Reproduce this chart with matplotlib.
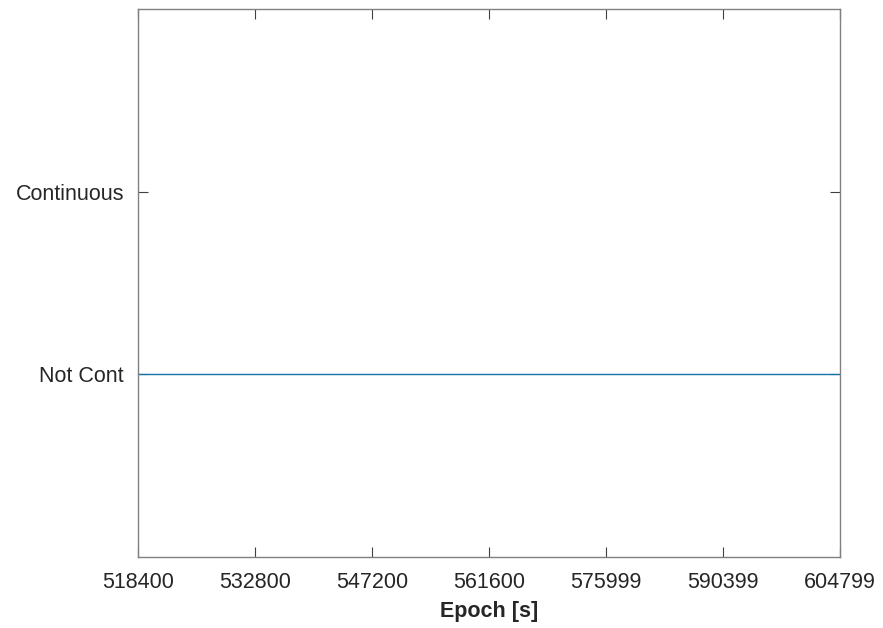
import matplotlib.pyplot as plt

plt.rcParams['font.family'] = ['Liberation Sans', 'DejaVu Sans']

epoch_ticks = [518400, 532800, 547200, 561600, 575999, 590399, 604799]
epoch = [518400, 604799]
status = [0, 0]
status_labels = ['Not Cont', 'Continuous']

fig = plt.figure(figsize=(8.83, 6.28), dpi=100)
ax = fig.add_axes([0.1563, 0.1131, 0.795, 0.8726])

ax.plot(epoch, status, color='#1572a8', linewidth=1.0)

ax.set_xlim(epoch_ticks[0], epoch_ticks[-1])
ax.set_ylim(-1, 2)
ax.set_xticks(epoch_ticks)
ax.set_xticklabels([str(t) for t in epoch_ticks])
ax.set_yticks([0, 1])
ax.set_yticklabels(status_labels)
ax.set_xlabel('Epoch [s]', fontsize=15.5, fontweight='bold', color='#262626',
              labelpad=6)

ax.tick_params(direction='in', length=7, width=0.8, color='#404040',
               labelsize=15.5, labelcolor='#262626',
               top=True, right=True)
ax.tick_params(axis='x', pad=10.5)
ax.tick_params(axis='y', pad=10)
for s in ax.spines.values():
    s.set_color('#808080')
    s.set_linewidth(1.0)

fig.savefig('out.png', dpi=100)
